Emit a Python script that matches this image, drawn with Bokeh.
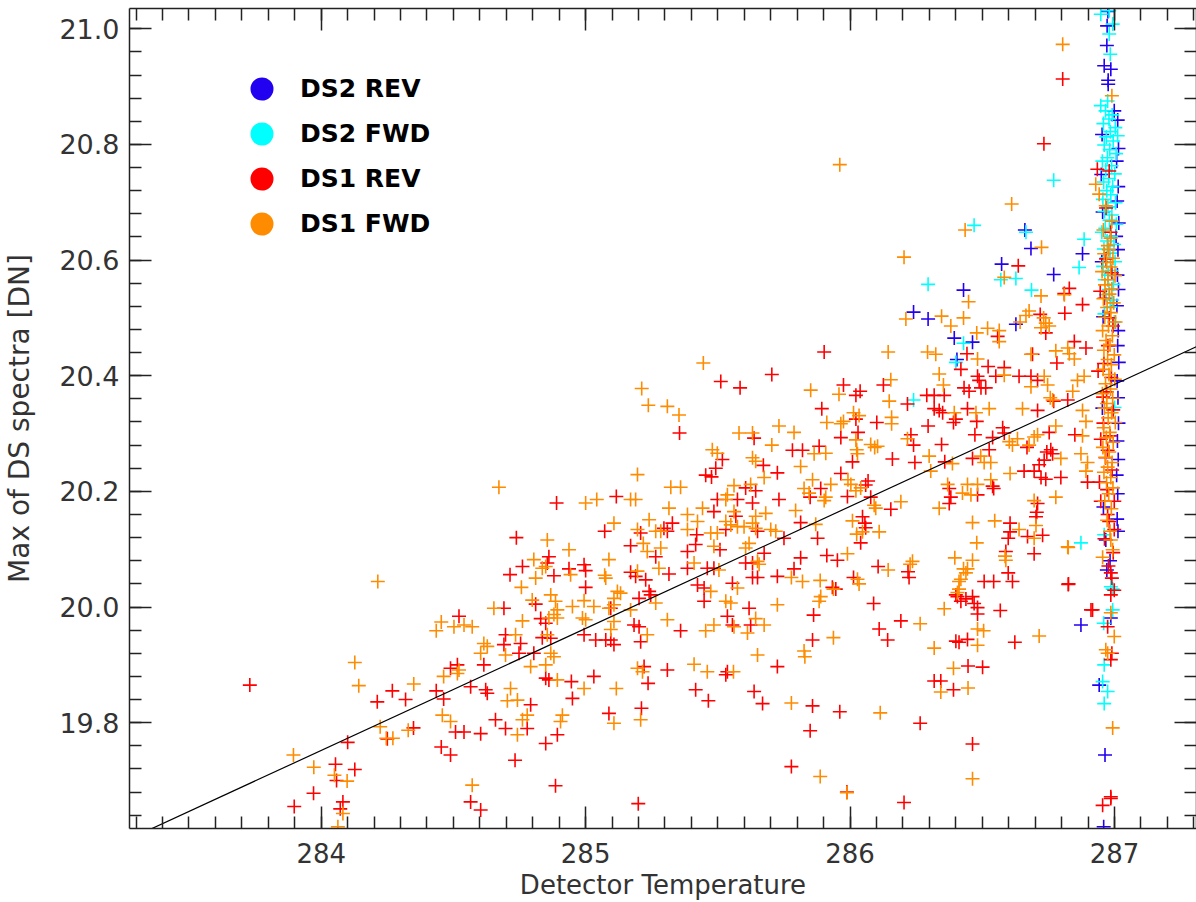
from bokeh.plotting import figure
from bokeh.models import (Range1d, LinearAxis, SingleIntervalTicker, PrintfTickFormatter, Legend,
                          LegendItem, CustomLabelingPolicy)
from bokeh.embed import file_html
from bokeh.resources import INLINE

# ---------------- data (Detector Temperature, Max of DS spectra [DN]) ----------------
ds2_rev = [
    (286.661, 20.652), (286.684, 20.620), (286.879, 20.611), (286.770, 20.575), (286.573, 20.593),
    (286.429, 20.548), (286.240, 20.510), (286.295, 20.498), (286.394, 20.465), (286.463, 20.458),
    (286.404, 20.428), (286.627, 20.489), (286.873, 19.969), (286.964, 19.744), (286.959, 19.620),
    (286.942, 19.865), (286.983, 20.080), (286.971, 20.064), (286.986, 19.981), (286.967, 20.116),
    (286.975, 21.030), (286.972, 21.005), (286.971, 20.971), (286.961, 20.936), (286.986, 20.930),
    (286.976, 20.911), (286.976, 20.904), (286.999, 20.858),
    (287.012, 20.842), (286.953, 20.817), (287.015, 20.793), (287.008, 20.771), (286.950, 20.748),
    (287.014, 20.727), (287.010, 20.702), (286.955, 20.683), (287.016, 20.664), (287.006, 20.641),
    (287.013, 20.618), (286.952, 20.597), (287.011, 20.574), (287.015, 20.549), (287.009, 20.521),
    (286.957, 20.502), (287.014, 20.478), (287.012, 20.452), (287.016, 20.423), (287.010, 20.391),
    (287.013, 20.362), (286.954, 20.344), (287.015, 20.318), (287.011, 20.287), (287.014, 20.255),
    (287.008, 20.228), (287.012, 20.196), (286.958, 20.173), (287.010, 20.152), (287.013, 20.131),
]

ds2_fwd = [
    (286.770, 20.738), (286.469, 20.660), (286.665, 20.648), (286.570, 20.566), (286.627, 20.568),
    (286.295, 20.558), (286.686, 20.548), (286.400, 20.423), (286.429, 20.456), (286.240, 20.358),
    (286.866, 20.587), (286.885, 20.636), (286.873, 20.111),
    (286.948, 21.025), (286.980, 21.031), (286.980, 20.991), (286.993, 21.008), (286.984, 20.956),
    (286.948, 20.867), (286.974, 20.875), (287.012, 20.815),
    (286.966, 20.858), (286.991, 20.851), (286.979, 20.844), (286.958, 20.836), (287.003, 20.829),
    (286.984, 20.822), (286.969, 20.813), (286.995, 20.806), (286.961, 20.799), (286.982, 20.791),
    (287.006, 20.784), (286.973, 20.777), (286.954, 20.771), (286.989, 20.763), (286.967, 20.756),
    (287.001, 20.749), (286.978, 20.741), (286.959, 20.735), (286.993, 20.727), (286.971, 20.720),
    (286.986, 20.713), (286.956, 20.705), (287.004, 20.699), (286.975, 20.692), (286.962, 20.684),
    (286.990, 20.678), (286.981, 20.669), (287.007, 20.662), (286.965, 20.655), (286.952, 20.648),
    (286.987, 20.641), (286.972, 20.633), (286.998, 20.627), (286.960, 20.619), (286.983, 20.612),
    (286.970, 20.604), (287.002, 20.597), (286.957, 20.589), (286.988, 20.582), (286.976, 20.574),
    (286.963, 20.566), (286.996, 20.558), (286.979, 20.549), (286.968, 20.540), (286.991, 20.531),
    (286.984, 20.519), (286.962, 20.507), (286.999, 20.493),
    (287.000, 20.345), (286.961, 20.125), (286.986, 20.035), (286.993, 20.031), (286.993, 19.995),
    (286.959, 19.972), (286.961, 19.900), (286.955, 19.871), (286.974, 19.854), (286.961, 19.833),
]

ds1_rev = [
    # low-temperature side
    (283.730, 19.865), (284.269, 19.855), (284.212, 19.836), (284.319, 19.840), (284.435, 19.855),
    (284.463, 19.841), (284.250, 19.772), (284.349, 19.791), (284.100, 19.766), (284.454, 19.758),
    (284.054, 19.728), (284.127, 19.719), (284.058, 19.700), (283.971, 19.678), (283.898, 19.655),
    (284.082, 19.663), (284.072, 19.651),
    # middle
    (285.511, 20.390), (285.584, 20.379), (285.704, 20.402), (285.355, 20.301), (285.637, 20.292),
    (285.517, 20.255), (285.492, 20.240), (285.454, 20.228), (285.476, 20.225), (285.672, 20.245),
    (285.725, 20.232), (285.605, 20.206), (285.643, 20.201), (284.890, 20.180), (285.116, 20.191),
    (285.498, 20.186), (285.574, 20.186), (285.631, 20.180), (285.731, 20.186), (285.485, 20.165),
    (285.568, 20.157), (285.328, 20.145), (285.072, 20.131), (285.208, 20.128), (285.296, 20.136),
    (285.309, 20.131), (285.420, 20.125), (285.530, 20.134), (285.650, 20.131), (284.738, 20.120),
    (285.170, 20.106), (285.265, 20.087), (285.385, 20.096), (285.416, 20.108), (285.508, 20.099),
    (285.675, 20.093), (284.861, 20.087), (284.855, 20.076), (284.761, 20.070), (284.714, 20.056),
    (284.880, 20.054), (284.937, 20.066), (284.994, 20.073), (285.000, 20.063), (285.170, 20.060),
    (285.189, 20.053), (285.227, 20.047), (285.315, 20.057), (285.385, 20.067), (285.460, 20.067),
    (285.485, 20.067), (285.605, 20.076), (285.631, 20.076), (285.631, 20.051), (285.650, 20.051),
    (285.725, 20.053), (285.000, 20.034), (285.423, 20.038), (285.448, 20.033), (285.555, 20.041),
    (285.240, 20.027), (285.246, 20.021), (284.691, 19.998), (284.811, 20.005), (285.095, 19.998),
    (285.202, 20.015), (285.448, 20.010), (285.618, 19.998), (284.521, 19.984), (284.830, 19.980),
    (284.849, 19.972), (285.183, 19.969), (285.202, 19.966), (285.359, 19.959), (285.536, 19.984),
    (285.555, 19.969), (285.624, 19.969), (284.697, 19.952), (284.691, 19.935), (284.754, 19.937),
    (284.748, 19.920), (284.804, 19.920), (284.836, 19.947), (284.868, 19.946), (284.994, 19.952),
    (285.038, 19.943), (285.076, 19.943), (285.095, 19.943), (285.107, 19.935), (285.208, 19.940),
    (284.515, 19.900), (284.489, 19.894), (284.615, 19.900), (284.849, 19.877), (284.861, 19.874),
    (284.946, 19.871), (285.031, 19.880), (285.221, 19.897), (285.309, 19.891), (285.530, 19.883),
    (285.536, 19.888), (285.725, 19.897), (284.565, 19.862), (284.622, 19.857), (284.628, 19.851),
    (284.792, 19.831), (284.950, 19.842), (285.236, 19.868), (285.416, 19.857), (285.464, 19.838),
    (285.637, 19.854), (285.669, 19.833), (284.508, 19.784), (284.540, 19.784), (284.603, 19.781),
    (284.659, 19.805), (284.697, 19.790), (284.779, 19.790), (284.893, 19.779), (284.849, 19.764),
    (285.088, 19.816), (285.211, 19.825), (284.489, 19.744), (284.733, 19.735), (284.886, 19.691),
    (284.565, 19.663), (284.603, 19.649), (285.199, 19.660),
    # warm side
    (286.636, 20.590), (286.829, 20.551), (286.810, 20.542), (286.879, 20.523), (286.558, 20.468),
    (286.719, 20.506), (286.740, 20.474), (286.812, 20.508), (286.848, 20.459), (286.782, 20.422),
    (286.892, 20.448), (285.902, 20.441), (286.442, 20.438), (286.522, 20.416), (286.583, 20.414),
    (286.690, 20.437), (286.419, 20.411), (286.482, 20.399), (286.488, 20.392), (286.431, 20.379),
    (286.450, 20.373), (286.495, 20.379), (286.513, 20.379), (286.551, 20.399), (286.639, 20.399),
    (286.684, 20.399), (286.709, 20.392), (285.975, 20.384), (286.038, 20.373), (286.022, 20.366),
    (286.126, 20.384), (286.217, 20.351), (286.290, 20.366), (286.318, 20.366), (286.356, 20.366),
    (286.318, 20.343), (286.337, 20.340), (286.350, 20.336), (286.444, 20.343), (286.400, 20.325),
    (286.391, 20.319), (286.479, 20.321), (286.709, 20.340), (286.770, 20.356), (286.823, 20.358),
    (285.893, 20.343), (286.022, 20.325), (286.030, 20.302), (286.101, 20.319), (286.230, 20.298),
    (286.240, 20.280), (286.295, 20.313), (286.346, 20.281), (286.472, 20.298), (286.539, 20.293),
    (286.577, 20.310), (286.583, 20.301), (286.669, 20.276), (286.753, 20.302), (286.759, 20.272),
    (286.744, 20.268), (286.766, 20.265), (286.850, 20.298), (285.782, 20.271), (285.820, 20.271),
    (285.883, 20.278), (285.965, 20.293), (286.009, 20.251), (286.160, 20.256), (286.245, 20.250),
    (286.358, 20.251), (286.463, 20.257), (286.526, 20.272), (286.658, 20.235), (286.696, 20.235),
    (286.715, 20.246), (286.734, 20.254), (286.722, 20.224), (286.740, 20.221), (286.797, 20.224),
    (286.898, 20.216), (285.889, 20.205), (285.849, 20.190), (285.965, 20.231), (285.990, 20.191),
    (286.059, 20.211), (286.068, 20.218), (286.078, 20.190), (286.154, 20.169), (286.375, 20.205),
    (286.381, 20.190), (286.375, 20.179), (286.482, 20.194), (286.539, 20.209), (286.543, 20.205),
    (286.709, 20.179), (286.706, 20.164), (286.703, 20.156), (285.813, 20.146), (285.877, 20.119),
    (286.047, 20.156), (286.056, 20.145), (286.059, 20.137), (286.040, 20.111), (285.750, 20.119),
    (286.605, 20.145), (286.605, 20.130), (286.598, 20.119), (286.671, 20.122), (286.728, 20.124),
    (285.813, 20.085), (285.912, 20.089), (285.952, 20.081), (285.788, 20.066), (285.933, 20.034),
    (285.946, 20.031), (285.862, 19.986), (286.013, 20.051), (286.106, 20.070), (286.219, 20.061),
    (286.223, 20.051), (286.507, 20.044), (286.543, 20.044), (286.598, 20.059), (286.614, 20.044),
    (286.589, 20.096), (286.696, 20.092), (286.826, 20.040), (286.089, 20.006), (286.192, 19.976),
    (286.110, 19.962), (286.142, 19.943), (285.858, 19.943), (286.400, 20.021), (286.406, 20.018),
    (286.419, 20.010), (286.438, 20.014), (286.463, 20.018), (286.469, 20.006), (286.482, 19.999),
    (286.482, 19.988), (286.568, 19.994), (286.444, 19.944), (286.400, 19.941), (286.412, 19.939),
    (286.623, 19.939), (286.911, 19.995), (286.446, 19.898), (286.501, 19.896), (286.318, 19.872),
    (286.343, 19.872), (286.391, 19.857), (285.858, 19.829), (285.961, 19.819), (285.849, 19.786),
    (286.265, 19.799), (286.463, 19.763), (285.778, 19.724), (285.988, 19.680), (286.204, 19.662),
    # near 287 K
    (286.935, 20.757), (286.980, 20.754), (286.804, 20.913), (286.733, 20.801), (286.946, 20.546),
    (286.980, 20.500), (286.938, 20.408), (286.957, 20.363), (286.948, 20.290), (286.943, 20.216),
    (286.974, 20.271), (286.980, 20.148), (286.999, 20.134), (286.999, 20.029), (286.948, 20.183),
    (286.974, 20.160), (286.999, 20.183), (286.986, 20.059), (286.990, 20.050), (286.986, 20.021),
    (286.825, 20.039), (286.917, 19.995), (286.974, 19.966), (286.990, 19.920), (286.986, 19.909),
    (286.986, 19.672), (286.955, 19.657), (286.986, 19.669),
    (286.968, 20.602), (286.990, 20.578), (286.962, 20.534), (286.994, 20.486), (286.975, 20.452),
    (286.960, 20.421), (286.988, 20.397), (286.970, 20.372), (286.995, 20.341), (286.958, 20.318),
    (286.983, 20.296), (286.966, 20.258), (286.991, 20.237), (286.972, 20.203), (286.962, 20.118),
    (286.995, 20.094), (286.977, 20.071), (286.968, 20.690), (286.985, 20.648),
]

ds1_fwd = [
    # low-temperature side
    (284.214, 20.044), (284.454, 19.974), (284.435, 19.959), (284.127, 19.904), (284.142, 19.864),
    (284.463, 19.880), (284.350, 19.867), (284.458, 19.813), (284.223, 19.793), (284.246, 19.773),
    (284.271, 19.773), (284.329, 19.787), (283.895, 19.744), (283.972, 19.723), (284.050, 19.709),
    (284.098, 19.699), (284.082, 19.643), (284.063, 19.620),
    # middle
    (285.445, 20.422), (285.212, 20.378), (285.237, 20.349), (285.309, 20.347), (285.353, 20.332),
    (285.580, 20.301), (285.631, 20.301), (285.704, 20.280), (285.731, 20.313), (285.479, 20.272),
    (285.498, 20.266), (285.631, 20.258), (285.643, 20.252), (285.675, 20.224), (285.196, 20.229),
    (284.672, 20.207), (285.322, 20.207), (285.359, 20.207), (285.561, 20.210), (285.624, 20.212),
    (285.000, 20.180), (285.042, 20.186), (285.170, 20.186), (285.189, 20.186), (285.536, 20.194),
    (285.530, 20.186), (285.315, 20.171), (285.442, 20.171), (285.385, 20.160), (285.561, 20.165),
    (285.681, 20.162), (285.643, 20.157), (285.240, 20.151), (285.423, 20.148), (285.530, 20.148),
    (285.549, 20.142), (285.574, 20.139), (285.599, 20.139), (285.107, 20.145), (285.196, 20.134),
    (285.265, 20.131), (285.284, 20.131), (285.385, 20.134), (285.473, 20.128), (285.498, 20.128),
    (285.631, 20.145), (285.643, 20.136), (285.700, 20.134), (285.719, 20.131), (284.855, 20.116),
    (285.218, 20.110), (285.233, 20.096), (285.284, 20.102), (285.485, 20.105), (285.605, 20.102),
    (285.618, 20.110), (284.937, 20.099), (284.804, 20.082), (284.836, 20.067), (284.849, 20.070),
    (284.811, 20.050), (284.943, 20.056), (285.088, 20.082), (285.072, 20.055), (285.076, 20.050),
    (285.196, 20.062), (285.277, 20.067), (285.410, 20.076), (285.504, 20.064), (285.650, 20.079),
    (285.656, 20.074), (284.757, 20.034), (285.574, 20.033), (285.473, 20.027), (284.868, 20.021),
    (285.120, 20.027), (285.132, 20.024), (285.107, 20.015), (284.653, 19.998), (284.798, 20.012),
    (284.886, 20.010), (284.893, 19.995), (284.880, 19.987), (284.950, 20.001), (284.994, 20.011),
    (285.031, 20.001), (285.088, 19.998), (285.107, 20.004), (285.170, 19.995), (285.265, 20.007),
    (285.530, 20.010), (285.549, 20.007), (285.725, 20.004), (284.502, 19.966), (284.540, 19.969),
    (284.571, 19.966), (284.761, 19.976), (284.861, 19.981), (284.893, 19.981), (284.988, 19.981),
    (285.000, 19.978), (285.107, 19.975), (285.095, 19.961), (285.309, 19.978), (285.454, 19.959),
    (285.485, 19.969), (285.561, 19.966), (285.643, 19.980), (285.675, 19.969), (285.612, 19.955),
    (284.735, 19.952), (284.615, 19.937), (284.628, 19.932), (284.603, 19.920), (284.697, 19.917),
    (284.855, 19.952), (284.868, 19.920), (284.880, 19.914), (285.233, 19.952), (285.650, 19.917),
    (284.521, 19.891), (284.515, 19.885), (284.792, 19.897), (284.849, 19.900), (284.893, 19.874),
    (285.196, 19.894), (285.215, 19.888), (285.410, 19.901), (285.460, 19.888), (285.559, 19.888),
    (284.716, 19.859), (284.704, 19.838), (284.742, 19.839), (284.994, 19.859), (285.116, 19.859),
    (284.489, 19.802), (284.761, 19.805), (284.779, 19.813), (284.742, 19.779), (284.912, 19.813),
    (284.905, 19.802), (285.107, 19.799), (285.208, 19.805), (284.571, 19.692),
    # warm side
    (285.961, 20.765), (286.611, 20.697), (286.435, 20.652), (286.724, 20.622), (286.204, 20.605),
    (286.583, 20.570), (286.448, 20.528), (286.722, 20.538), (286.211, 20.498), (286.346, 20.503),
    (286.429, 20.500), (286.381, 20.486), (286.479, 20.474), (286.520, 20.482), (286.564, 20.478),
    (286.564, 20.459), (286.643, 20.493), (286.665, 20.504), (286.677, 20.512), (286.732, 20.500),
    (286.740, 20.491), (286.722, 20.483), (286.753, 20.486), (286.823, 20.448), (286.829, 20.438),
    (286.778, 20.443), (286.848, 20.429), (286.144, 20.441), (286.293, 20.441), (286.324, 20.437),
    (286.482, 20.429), (286.583, 20.401), (286.684, 20.437), (286.337, 20.403), (286.353, 20.384),
    (286.734, 20.399), (286.747, 20.384), (286.860, 20.392), (286.885, 20.399), (285.851, 20.375),
    (285.958, 20.368), (286.154, 20.393), (286.148, 20.356), (286.394, 20.336), (286.476, 20.336),
    (286.526, 20.343), (286.652, 20.343), (286.684, 20.381), (286.757, 20.362), (286.766, 20.358),
    (286.842, 20.373), (286.879, 20.340), (286.892, 20.321), (285.912, 20.319), (285.965, 20.317),
    (285.975, 20.321), (286.013, 20.336), (286.034, 20.331), (286.157, 20.328), (286.157, 20.317),
    (286.217, 20.291), (286.633, 20.291), (286.602, 20.286), (286.614, 20.280), (286.696, 20.294),
    (286.709, 20.298), (286.677, 20.280), (286.778, 20.313), (286.797, 20.257), (286.879, 20.296),
    (286.873, 20.265), (285.788, 20.302), (285.864, 20.265), (285.908, 20.266), (286.022, 20.289),
    (286.025, 20.272), (286.028, 20.265), (286.078, 20.281), (286.093, 20.276), (286.104, 20.278),
    (286.299, 20.261), (286.305, 20.235), (286.387, 20.248), (286.494, 20.261), (286.507, 20.250),
    (286.532, 20.250), (286.605, 20.231), (286.892, 20.235), (286.898, 20.250), (285.813, 20.243),
    (285.826, 20.205), (285.845, 20.197), (285.858, 20.220), (285.908, 20.190), (285.927, 20.212),
    (285.902, 20.184), (285.992, 20.220), (286.003, 20.212), (286.040, 20.206), (286.022, 20.201),
    (286.091, 20.176), (286.097, 20.171), (286.192, 20.182), (286.337, 20.171), (286.369, 20.212),
    (286.425, 20.197), (286.444, 20.212), (286.482, 20.212), (286.457, 20.194), (286.532, 20.220),
    (286.778, 20.190), (286.696, 20.184), (285.794, 20.167), (285.870, 20.143), (286.009, 20.149),
    (286.025, 20.126), (286.047, 20.130), (286.110, 20.130), (286.463, 20.146), (286.547, 20.149),
    (286.639, 20.134), (286.703, 20.141), (286.696, 20.119), (286.479, 20.111), (286.823, 20.104),
    (285.990, 20.092), (285.778, 20.051), (285.820, 20.044), (285.887, 20.046), (285.937, 20.031),
    (285.883, 20.010), (285.889, 20.018), (286.028, 20.048), (286.034, 20.040), (286.144, 20.064),
    (286.227, 20.074), (286.236, 20.079), (286.396, 20.085), (286.463, 20.081), (286.429, 20.066),
    (286.444, 20.066), (286.438, 20.059), (286.419, 20.048), (286.412, 20.044), (286.586, 20.088),
    (286.589, 20.081), (285.937, 19.947), (285.826, 19.924), (285.829, 19.914), (286.265, 19.971),
    (286.356, 19.997), (286.406, 20.025), (286.412, 20.031), (286.482, 19.962), (286.505, 19.959),
    (286.482, 19.934), (286.318, 19.929), (286.715, 19.950), (286.391, 19.894), (286.343, 19.853),
    (286.446, 19.860), (285.778, 19.834), (286.114, 19.817), (285.887, 19.707), (285.988, 19.679),
    (286.463, 19.703),
    # near 287 K
    (286.804, 20.973), (286.990, 20.884), (286.929, 20.731), (286.942, 20.714), (286.810, 20.540),
    (286.986, 20.116), (286.955, 20.086), (286.993, 20.099), (286.986, 19.990), (286.999, 19.949),
    (286.967, 19.926), (286.974, 19.920), (286.993, 19.791), (286.825, 20.103),
    (286.967, 20.694), (286.990, 20.667), (286.958, 20.652), (286.985, 20.638), (286.975, 20.625),
    (286.978, 20.618), (286.961, 20.611), (286.994, 20.603), (286.970, 20.596), (286.985, 20.588),
    (286.953, 20.580), (287.002, 20.573), (286.975, 20.566), (286.964, 20.557), (286.990, 20.550),
    (286.981, 20.541), (286.958, 20.533), (286.997, 20.526), (286.972, 20.518), (286.986, 20.509),
    (286.963, 20.501), (287.004, 20.493), (286.977, 20.486), (286.955, 20.478), (286.992, 20.469),
    (286.968, 20.461), (286.983, 20.453), (286.960, 20.444), (286.999, 20.436), (286.974, 20.428),
    (286.988, 20.419), (286.957, 20.411), (286.979, 20.402), (287.001, 20.394), (286.966, 20.386),
    (286.985, 20.377), (286.954, 20.369), (286.993, 20.361), (286.971, 20.352), (286.962, 20.344),
    (286.989, 20.336), (286.976, 20.327), (287.003, 20.319), (286.959, 20.310), (286.982, 20.302),
    (286.969, 20.293), (286.995, 20.285), (286.956, 20.276), (286.980, 20.268), (286.965, 20.259),
    (286.991, 20.250), (286.974, 20.242), (286.960, 20.233), (286.986, 20.224), (286.970, 20.215),
    (286.994, 20.206), (286.978, 20.196), (286.963, 20.183), (286.988, 20.170), (286.972, 20.150),
    (286.983, 20.131),
]

# linear fit shown in the figure: value at 284 K and slope per K
fit_at_284 = 19.752
fit_slope = 0.211

series_names = ["DS2 REV", "DS2 FWD", "DS1 REV", "DS1 FWD"]
series_colors = ["#2200f0", "#00ffff", "#ff0000", "#ff8c00"]
series_data = [ds2_rev, ds2_fwd, ds1_rev, ds1_fwd]

x_axis_title = "Detector Temperature"
y_axis_title = "Max of DS spectra [DN]"

# ---------------- figure ----------------
p = figure(width=1196, height=902, output_backend="svg", toolbar_location=None,
           x_range=Range1d(283.275, 287.31), y_range=Range1d(19.617, 21.035),
           min_border_left=129, min_border_right=0, min_border_top=8, min_border_bottom=74)
p.outline_line_color = None
p.xgrid.visible = False
p.ygrid.visible = False
p.background_fill_color = "white"
p.border_fill_color = "white"

axis_color = "#222222"
font = "DejaVu Sans"
no_labels = CustomLabelingPolicy(code="""
    for (const i of indices)
        indices.unset(i)
    return indices
""")


def style_axis(ax, ticker, show_labels):
    ax.ticker = ticker
    ax.axis_line_color = axis_color
    ax.axis_line_width = 1.5
    ax.major_tick_line_color = axis_color
    ax.minor_tick_line_color = axis_color
    ax.major_tick_line_width = 1.5
    ax.minor_tick_line_width = 1.5
    ax.major_tick_in = 22
    ax.major_tick_out = 0
    ax.minor_tick_in = 12
    ax.minor_tick_out = 0
    if show_labels:
        ax.major_label_text_font = font
        ax.major_label_text_font_size = "26px"
        ax.major_label_text_color = "#333333"
        ax.axis_label_text_font = font
        ax.axis_label_text_font_size = "26px"
        ax.axis_label_text_font_style = "normal"
        ax.axis_label_text_color = "#333333"
    else:
        ax.major_label_policy = no_labels
        ax.major_label_text_font_size = "0px"
        ax.major_label_standoff = 0


xt = SingleIntervalTicker(interval=1, num_minor_ticks=10)
yt = SingleIntervalTicker(interval=0.2, num_minor_ticks=5)

xa = p.xaxis[0]
style_axis(xa, xt, True)
xa.formatter = PrintfTickFormatter(format="%d")
xa.major_label_standoff = 14
xa.axis_label = x_axis_title
xa.axis_label_standoff = 4

ya = p.yaxis[0]
style_axis(ya, yt, True)
ya.formatter = PrintfTickFormatter(format="%.1f")
ya.major_label_text_font_size = "27px"
ya.major_label_standoff = 10
ya.axis_label = y_axis_title
ya.axis_label_text_font_size = "28px"
ya.axis_label_standoff = 20

top = LinearAxis()
style_axis(top, SingleIntervalTicker(interval=1, num_minor_ticks=10), False)
p.add_layout(top, "above")
right = LinearAxis()
style_axis(right, SingleIntervalTicker(interval=0.2, num_minor_ticks=5), False)
p.add_layout(right, "right")

# data points
for name, col, pts in zip(series_names, series_colors, series_data):
    xs = [a for a, b in pts]
    ys = [b for a, b in pts]
    p.scatter(xs, ys, marker="cross", size=14, line_color=col, line_width=1.6)

# fit line
fx = [283.2, 287.4]
fy = [fit_at_284 + fit_slope * (v - 284) for v in fx]
p.line(fx, fy, line_color="black", line_width=1.2)

# legend (filled dots); the legend renderers hold no visible point
nan = float("nan")
items = []
for name, col in zip(series_names, series_colors):
    r = p.scatter(x=[nan], y=[nan], marker="circle", size=18, fill_color=col,
                  line_color=col, line_width=5)
    items.append(LegendItem(label=name, renderers=[r]))
legend = Legend(items=items, location=(110, 582), orientation="vertical",
                glyph_width=45, glyph_height=45, spacing=0, padding=0, margin=0,
                label_standoff=16, label_text_font=font, label_text_font_size="25px",
                label_text_font_style="bold", label_text_color="black",
                border_line_color=None, background_fill_alpha=0)
p.add_layout(legend, "center")

open("out.html", "w").write(file_html(p, INLINE))
